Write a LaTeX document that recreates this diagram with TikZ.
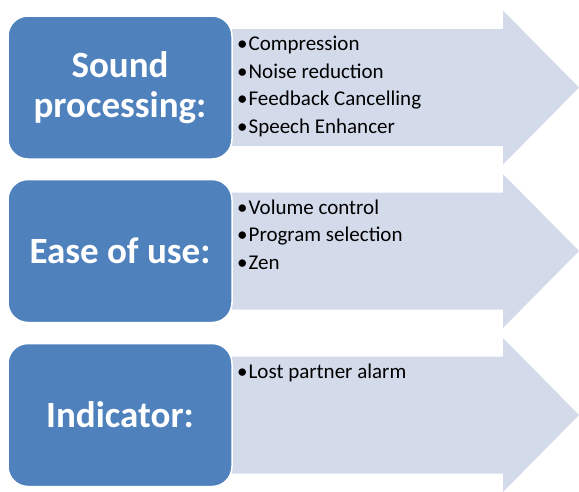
\documentclass[tikz,border=0pt]{standalone}
\usepackage{fontspec}
\setmainfont{Carlito}
\definecolor{boxblue}{HTML}{4F81BD}
\definecolor{arrowfill}{HTML}{D3DAEA}
\begin{document}
\begin{tikzpicture}[x=1pt,y=-1pt,
  titlebox/.style={draw=white,line width=1.5pt,fill=boxblue,rounded corners=20pt,
    minimum width=224pt,minimum height=143pt,inner sep=0pt,text=white,
    font=\fontsize{37}{40}\selectfont\bfseries,align=center},
  item/.style={anchor=base west,inner sep=0pt,font=\fontsize{21}{24}\selectfont,text=black},
  arrowshape/.style={fill=arrowfill,draw=none}]
\useasboundingbox (0,0) rectangle (579,491);
\foreach \c/\n in {87.5/a,251/b,415/c}{
  \fill[arrowshape] (200,\c-58.5) -- (503,\c-58.5) -- (503,\c-77) -- (579,\c) -- (503,\c+77) -- (503,\c+58.5) -- (200,\c+58.5) -- cycle;
}
\node[titlebox] (t1) at (120,87.5) {Sound\\processing:};
\node[titlebox] (t2) at (120,251) {Ease of use:};
\node[titlebox] (t3) at (120,415) {Indicator:};
\node[item] (i11) at (237,50.5) {•\kern1pt Compression};
\node[item] (i12) at (237,78) {•\kern1pt Noise reduction};
\node[item] (i13) at (237,105.5) {•\kern1pt Feedback Cancelling};
\node[item] (i14) at (237,133) {•\kern1pt Speech Enhancer};
\node[item] (i21) at (237,214) {•\kern1pt Volume control};
\node[item] (i22) at (237,241.5) {•\kern1pt Program selection};
\node[item] (i23) at (237,269) {•\kern1pt Zen};
\node[item] (i31) at (237,378) {•\kern1pt Lost partner alarm};
\end{tikzpicture}
\end{document}
